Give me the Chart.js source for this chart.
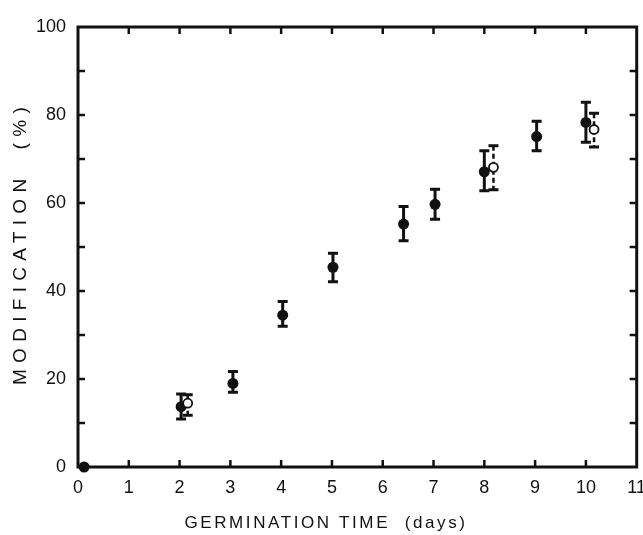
<!DOCTYPE html>
<html>
<head>
<meta charset="utf-8">
<script src="https://cdn.jsdelivr.net/npm/chart.js@4/dist/chart.umd.min.js"></script>
<style>
    body { margin: 0; background: #fff; }
    #wrap { width: 643px; height: 535px; position: relative; }
</style>
</head>
<body>
<div id="wrap"><canvas id="germChart"></canvas></div>
<script>
// filled circles (solid error bars)
const filledDays = [0.12, 2.03, 3.05, 4.03, 5.02, 6.41, 7.03, 8.0, 9.03, 10.0];
const filledMod = [0, 13.7, 19.0, 34.5, 45.4, 55.2, 59.7, 67.1, 75.1, 78.3];
const filledLow = [null, 10.9, 17.0, 32.0, 42.1, 51.4, 56.3, 62.8, 71.9, 73.8];
const filledHigh = [null, 16.6, 21.7, 37.6, 48.6, 59.2, 63.1, 71.9, 78.6, 82.9];

// open circles (dashed error bars)
const openDays = [2.16, 8.18, 10.16];
const openMod = [14.5, 68.1, 76.7];
const openLow = [11.75, 63.0, 72.7];
const openHigh = [16.4, 73.0, 80.4];

const xTitle = 'GERMINATION TIME  (days)';
const yTitle = 'MODIFICATION  (%)';

const INK = '#111';
const FONT = '"Liberation Sans", Arial, sans-serif';

function toPoints(xs, ys) {
    return xs.map((x, i) => ({ x: x, y: ys[i] }));
}

const errorBars = {
    id: 'errorBars',
    beforeDatasetsDraw(chart) {
        const ctx = chart.ctx;
        const xs = chart.scales.x, ys = chart.scales.y;
        const sets = [
            { days: filledDays, low: filledLow, high: filledHigh, dash: [], width: 3 },
            { days: openDays, low: openLow, high: openHigh, dash: [5, 3], width: 2.5 }
        ];
        ctx.save();
        ctx.strokeStyle = INK;
        sets.forEach(s => {
            s.days.forEach((d, i) => {
                if (s.low[i] == null) return;
                const px = xs.getPixelForValue(d);
                const top = ys.getPixelForValue(s.high[i]);
                const bot = ys.getPixelForValue(s.low[i]);
                ctx.lineWidth = s.width;
                ctx.setLineDash(s.dash);
                ctx.beginPath();
                ctx.moveTo(px, top);
                ctx.lineTo(px, bot);
                ctx.stroke();
                ctx.setLineDash([]);
                ctx.lineWidth = 3;
                ctx.beginPath();
                ctx.moveTo(px - 5, top); ctx.lineTo(px + 5, top);
                ctx.moveTo(px - 5, bot); ctx.lineTo(px + 5, bot);
                ctx.stroke();
            });
        });
        ctx.restore();
    }
};

const frameTicks = {
    id: 'frameTicks',
    afterDatasetsDraw(chart) {
        const ctx = chart.ctx;
        const a = chart.chartArea;
        const xs = chart.scales.x, ys = chart.scales.y;
        const len = 7;
        ctx.save();
        ctx.strokeStyle = INK;
        ctx.lineWidth = 2.5;
        ctx.beginPath();
        xs.ticks.forEach(t => {
            if (t.value <= 0 || t.value >= 11) return;
            const px = xs.getPixelForValue(t.value);
            ctx.moveTo(px, a.bottom); ctx.lineTo(px, a.bottom - len);
            ctx.moveTo(px, a.top); ctx.lineTo(px, a.top + len);
        });
        ys.ticks.forEach(t => {
            if (t.value <= 0 || t.value >= 100) return;
            const py = ys.getPixelForValue(t.value);
            ctx.moveTo(a.left, py); ctx.lineTo(a.left + len, py);
            ctx.moveTo(a.right, py); ctx.lineTo(a.right - len, py);
        });
        ctx.stroke();
        ctx.lineWidth = 3;
        ctx.strokeRect(a.left, a.top, a.right - a.left, a.bottom - a.top);

        // axis titles
        ctx.fillStyle = INK;
        ctx.textAlign = 'center';
        ctx.textBaseline = 'middle';
        ctx.font = '17px ' + FONT;
        ctx.letterSpacing = '2.6px';
        ctx.fillText(xTitle, 326, 523);
        ctx.font = '19px ' + FONT;
        ctx.letterSpacing = '6.3px';
        ctx.translate(21, 243);
        ctx.rotate(-Math.PI / 2);
        ctx.fillText(yTitle, 0, 0);
        ctx.restore();
    }
};

const ctx = document.getElementById('germChart').getContext('2d');

new Chart(ctx, {
    type: 'scatter',
    data: {
        datasets: [
            {
                label: 'open',
                data: toPoints(openDays, openMod),
                pointRadius: 4.5,
                pointBackgroundColor: '#fff',
                pointBorderColor: INK,
                pointBorderWidth: 1.8,
                clip: false
            },
            {
                label: 'filled',
                data: toPoints(filledDays, filledMod),
                pointRadius: 5.5,
                pointBackgroundColor: INK,
                pointBorderColor: INK,
                pointBorderWidth: 0,
                clip: false
            }
        ]
    },
    options: {
        responsive: true,
        maintainAspectRatio: false,
        animation: false,
        layout: {
            padding: { top: 27, right: 5, left: 0, bottom: 0 }
        },
        plugins: {
            legend: { display: false },
            tooltip: { enabled: false }
        },
        scales: {
            x: {
                type: 'linear',
                min: 0,
                max: 11,
                grid: { display: false, drawTicks: false },
                border: { display: false },
                ticks: {
                    stepSize: 1,
                    color: INK,
                    padding: 10,
                    maxRotation: 0,
                    font: { family: FONT, size: 18 }
                },
                afterFit(scale) {
                    scale.height = 68;
                    scale.paddingLeft = 0;
                    scale.paddingRight = 0;
                }
            },
            y: {
                min: 0,
                max: 100,
                grid: { display: false, drawTicks: false },
                border: { display: false },
                ticks: {
                    stepSize: 10,
                    color: INK,
                    padding: 12,
                    font: { family: FONT, size: 18 },
                    callback: v => (v % 20 === 0 ? v : '')
                },
                afterFit(scale) {
                    scale.width = 78;
                    scale.paddingTop = 0;
                    scale.paddingBottom = 0;
                }
            }
        }
    },
    plugins: [errorBars, frameTicks]
});
</script>
</body>
</html>
